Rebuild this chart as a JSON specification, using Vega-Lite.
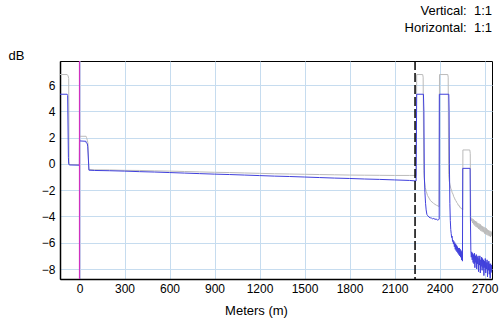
{
  "$schema": "https://vega.github.io/schema/vega-lite/v6.json",
  "width": 432,
  "height": 218,
  "autosize": {"type": "none"},
  "padding": {"left": 60, "top": 61, "right": 10, "bottom": 42},
  "background": "white",
  "title": {
    "text": "Vertical:\u00a0\u00a01:1",
    "subtitle": "Horizontal:\u00a0\u00a01:1",
    "anchor": "end",
    "frame": "group",
    "font": "Liberation Sans",
    "fontSize": 13,
    "fontWeight": "normal",
    "color": "black",
    "subtitleFont": "Liberation Sans",
    "subtitleFontSize": 13,
    "subtitleColor": "black",
    "subtitlePadding": 4,
    "offset": 14
  },
  "config": {
    "view": {"stroke": "black", "strokeWidth": 1},
    "axis": {
      "labelFont": "Liberation Sans",
      "labelFontSize": 12,
      "labelColor": "black",
      "labelOverlap": false,
      "titleFont": "Liberation Sans",
      "titleFontSize": 13,
      "titleFontWeight": "normal",
      "titleColor": "black",
      "gridColor": "#c6dcef",
      "gridOpacity": 1,
      "gridWidth": 1,
      "ticks": false,
      "domainColor": "black",
      "domainWidth": 1.5
    }
  },
  "datasets": {
    "trace": [
      {"series": "grey", "m": -130, "dB": 6.8},
      {"series": "grey", "m": -82, "dB": 6.8},
      {"series": "grey", "m": -76, "dB": 6.7},
      {"series": "grey", "m": -72, "dB": 6.5},
      {"series": "grey", "m": -70, "dB": 0.2},
      {"series": "grey", "m": -68, "dB": -0.05},
      {"series": "grey", "m": -0.5, "dB": -0.05},
      {"series": "grey", "m": 0, "dB": 2.1},
      {"series": "grey", "m": 44, "dB": 2.1},
      {"series": "grey", "m": 47, "dB": 2.0},
      {"series": "grey", "m": 52, "dB": 1.8},
      {"series": "grey", "m": 56, "dB": 1.6},
      {"series": "grey", "m": 62, "dB": -0.42},
      {"series": "grey", "m": 100, "dB": -0.45},
      {"series": "grey", "m": 200, "dB": -0.46},
      {"series": "grey", "m": 300, "dB": -0.49},
      {"series": "grey", "m": 400, "dB": -0.5},
      {"series": "grey", "m": 500, "dB": -0.53},
      {"series": "grey", "m": 600, "dB": -0.55},
      {"series": "grey", "m": 700, "dB": -0.58},
      {"series": "grey", "m": 800, "dB": -0.61},
      {"series": "grey", "m": 900, "dB": -0.64},
      {"series": "grey", "m": 1000, "dB": -0.66},
      {"series": "grey", "m": 1100, "dB": -0.69},
      {"series": "grey", "m": 1200, "dB": -0.72},
      {"series": "grey", "m": 1300, "dB": -0.75},
      {"series": "grey", "m": 1400, "dB": -0.77},
      {"series": "grey", "m": 1500, "dB": -0.79},
      {"series": "grey", "m": 1600, "dB": -0.81},
      {"series": "grey", "m": 1700, "dB": -0.83},
      {"series": "grey", "m": 1800, "dB": -0.85},
      {"series": "grey", "m": 1900, "dB": -0.86},
      {"series": "grey", "m": 2000, "dB": -0.87},
      {"series": "grey", "m": 2100, "dB": -0.88},
      {"series": "grey", "m": 2200, "dB": -0.88},
      {"series": "grey", "m": 2244, "dB": -0.88},
      {"series": "grey", "m": 2248, "dB": 6.8},
      {"series": "grey", "m": 2288, "dB": 6.8},
      {"series": "grey", "m": 2291, "dB": 6.6},
      {"series": "grey", "m": 2295, "dB": -0.5},
      {"series": "grey", "m": 2300, "dB": -1.3},
      {"series": "grey", "m": 2305, "dB": -1.8},
      {"series": "grey", "m": 2312, "dB": -2.1},
      {"series": "grey", "m": 2320, "dB": -2.4},
      {"series": "grey", "m": 2330, "dB": -2.6},
      {"series": "grey", "m": 2340, "dB": -2.8},
      {"series": "grey", "m": 2350, "dB": -2.9},
      {"series": "grey", "m": 2360, "dB": -3.0},
      {"series": "grey", "m": 2370, "dB": -3.08},
      {"series": "grey", "m": 2380, "dB": -3.15},
      {"series": "grey", "m": 2390, "dB": -3.2},
      {"series": "grey", "m": 2397, "dB": -3.25},
      {"series": "grey", "m": 2400, "dB": 6.8},
      {"series": "grey", "m": 2455, "dB": 6.8},
      {"series": "grey", "m": 2458, "dB": 6.6},
      {"series": "grey", "m": 2461, "dB": -0.8},
      {"series": "grey", "m": 2465, "dB": -1.3},
      {"series": "grey", "m": 2470, "dB": -1.6},
      {"series": "grey", "m": 2475, "dB": -1.85},
      {"series": "grey", "m": 2480, "dB": -2.0},
      {"series": "grey", "m": 2485, "dB": -2.2},
      {"series": "grey", "m": 2490, "dB": -2.3},
      {"series": "grey", "m": 2495, "dB": -2.5},
      {"series": "grey", "m": 2500, "dB": -2.6},
      {"series": "grey", "m": 2505, "dB": -2.75},
      {"series": "grey", "m": 2510, "dB": -2.8},
      {"series": "grey", "m": 2515, "dB": -2.95},
      {"series": "grey", "m": 2520, "dB": -3.0},
      {"series": "grey", "m": 2525, "dB": -3.15},
      {"series": "grey", "m": 2530, "dB": -3.15},
      {"series": "grey", "m": 2535, "dB": -3.3},
      {"series": "grey", "m": 2540, "dB": -3.3},
      {"series": "grey", "m": 2545, "dB": -3.42},
      {"series": "grey", "m": 2550, "dB": -3.4},
      {"series": "grey", "m": 2555, "dB": -3.5},
      {"series": "grey", "m": 2556, "dB": 1.06},
      {"series": "grey", "m": 2602, "dB": 1.06},
      {"series": "grey", "m": 2605, "dB": 0.8},
      {"series": "grey", "m": 2608, "dB": -4.0},
      {"series": "grey", "m": 2612, "dB": -4.35},
      {"series": "grey", "m": 2616, "dB": -4.15},
      {"series": "grey", "m": 2620, "dB": -4.5},
      {"series": "grey", "m": 2624, "dB": -4.2},
      {"series": "grey", "m": 2628, "dB": -4.6},
      {"series": "grey", "m": 2632, "dB": -4.3},
      {"series": "grey", "m": 2636, "dB": -4.7},
      {"series": "grey", "m": 2640, "dB": -4.35},
      {"series": "grey", "m": 2644, "dB": -4.8},
      {"series": "grey", "m": 2648, "dB": -4.4},
      {"series": "grey", "m": 2652, "dB": -4.85},
      {"series": "grey", "m": 2656, "dB": -4.5},
      {"series": "grey", "m": 2660, "dB": -4.95},
      {"series": "grey", "m": 2664, "dB": -4.55},
      {"series": "grey", "m": 2668, "dB": -5.0},
      {"series": "grey", "m": 2672, "dB": -4.6},
      {"series": "grey", "m": 2676, "dB": -5.1},
      {"series": "grey", "m": 2680, "dB": -4.7},
      {"series": "grey", "m": 2684, "dB": -5.15},
      {"series": "grey", "m": 2688, "dB": -4.75},
      {"series": "grey", "m": 2692, "dB": -5.2},
      {"series": "grey", "m": 2696, "dB": -4.8},
      {"series": "grey", "m": 2700, "dB": -5.3},
      {"series": "grey", "m": 2704, "dB": -4.85},
      {"series": "grey", "m": 2708, "dB": -5.35},
      {"series": "grey", "m": 2712, "dB": -4.9},
      {"series": "grey", "m": 2716, "dB": -5.4},
      {"series": "grey", "m": 2720, "dB": -5.0},
      {"series": "grey", "m": 2724, "dB": -5.45},
      {"series": "grey", "m": 2728, "dB": -5.05},
      {"series": "grey", "m": 2732, "dB": -5.5},
      {"series": "grey", "m": 2736, "dB": -5.1},
      {"series": "grey", "m": 2740, "dB": -5.55},
      {"series": "grey", "m": 2744, "dB": -5.15},
      {"series": "grey", "m": 2750, "dB": -5.5},
      {"series": "blue", "m": -130, "dB": 5.3},
      {"series": "blue", "m": -82, "dB": 5.3},
      {"series": "blue", "m": -79, "dB": 5.2},
      {"series": "blue", "m": -74, "dB": 0.5},
      {"series": "blue", "m": -72, "dB": 0.0},
      {"series": "blue", "m": -68, "dB": -0.08},
      {"series": "blue", "m": -0.5, "dB": -0.1},
      {"series": "blue", "m": 0, "dB": 1.75},
      {"series": "blue", "m": 43, "dB": 1.72},
      {"series": "blue", "m": 45, "dB": 1.6},
      {"series": "blue", "m": 52, "dB": 1.55},
      {"series": "blue", "m": 55, "dB": 1.3},
      {"series": "blue", "m": 63, "dB": -0.48},
      {"series": "blue", "m": 100, "dB": -0.5},
      {"series": "blue", "m": 200, "dB": -0.52},
      {"series": "blue", "m": 300, "dB": -0.55},
      {"series": "blue", "m": 400, "dB": -0.59},
      {"series": "blue", "m": 500, "dB": -0.62},
      {"series": "blue", "m": 600, "dB": -0.66},
      {"series": "blue", "m": 700, "dB": -0.7},
      {"series": "blue", "m": 800, "dB": -0.74},
      {"series": "blue", "m": 900, "dB": -0.78},
      {"series": "blue", "m": 1000, "dB": -0.81},
      {"series": "blue", "m": 1100, "dB": -0.85},
      {"series": "blue", "m": 1200, "dB": -0.89},
      {"series": "blue", "m": 1300, "dB": -0.93},
      {"series": "blue", "m": 1400, "dB": -0.96},
      {"series": "blue", "m": 1500, "dB": -1.0},
      {"series": "blue", "m": 1600, "dB": -1.04},
      {"series": "blue", "m": 1700, "dB": -1.08},
      {"series": "blue", "m": 1800, "dB": -1.11},
      {"series": "blue", "m": 1900, "dB": -1.15},
      {"series": "blue", "m": 2000, "dB": -1.18},
      {"series": "blue", "m": 2100, "dB": -1.22},
      {"series": "blue", "m": 2200, "dB": -1.26},
      {"series": "blue", "m": 2244, "dB": -1.3},
      {"series": "blue", "m": 2248, "dB": 5.3},
      {"series": "blue", "m": 2293, "dB": 5.3},
      {"series": "blue", "m": 2296, "dB": 4.0},
      {"series": "blue", "m": 2299, "dB": -1.0},
      {"series": "blue", "m": 2303, "dB": -2.2},
      {"series": "blue", "m": 2307, "dB": -3.0},
      {"series": "blue", "m": 2311, "dB": -3.5},
      {"series": "blue", "m": 2316, "dB": -3.85},
      {"series": "blue", "m": 2322, "dB": -3.95},
      {"series": "blue", "m": 2330, "dB": -4.05},
      {"series": "blue", "m": 2338, "dB": -4.1},
      {"series": "blue", "m": 2346, "dB": -4.12},
      {"series": "blue", "m": 2354, "dB": -4.18},
      {"series": "blue", "m": 2362, "dB": -4.15},
      {"series": "blue", "m": 2370, "dB": -4.22},
      {"series": "blue", "m": 2378, "dB": -4.2},
      {"series": "blue", "m": 2386, "dB": -4.27},
      {"series": "blue", "m": 2394, "dB": -4.25},
      {"series": "blue", "m": 2398, "dB": -4.2},
      {"series": "blue", "m": 2399, "dB": 5.3},
      {"series": "blue", "m": 2462, "dB": 5.3},
      {"series": "blue", "m": 2464, "dB": 4.0},
      {"series": "blue", "m": 2466, "dB": 0.0},
      {"series": "blue", "m": 2469, "dB": -3.0},
      {"series": "blue", "m": 2472, "dB": -4.3},
      {"series": "blue", "m": 2475, "dB": -5.0},
      {"series": "blue", "m": 2478, "dB": -5.3},
      {"series": "blue", "m": 2481, "dB": -5.6},
      {"series": "blue", "m": 2484, "dB": -5.5},
      {"series": "blue", "m": 2487, "dB": -5.9},
      {"series": "blue", "m": 2490, "dB": -5.8},
      {"series": "blue", "m": 2493, "dB": -6.1},
      {"series": "blue", "m": 2496, "dB": -5.9},
      {"series": "blue", "m": 2499, "dB": -6.3},
      {"series": "blue", "m": 2502, "dB": -6.0},
      {"series": "blue", "m": 2505, "dB": -6.5},
      {"series": "blue", "m": 2508, "dB": -6.1},
      {"series": "blue", "m": 2511, "dB": -6.6},
      {"series": "blue", "m": 2514, "dB": -6.2},
      {"series": "blue", "m": 2517, "dB": -6.7},
      {"series": "blue", "m": 2520, "dB": -6.3},
      {"series": "blue", "m": 2523, "dB": -6.8},
      {"series": "blue", "m": 2526, "dB": -6.4},
      {"series": "blue", "m": 2529, "dB": -6.9},
      {"series": "blue", "m": 2532, "dB": -6.4},
      {"series": "blue", "m": 2535, "dB": -7.0},
      {"series": "blue", "m": 2538, "dB": -6.5},
      {"series": "blue", "m": 2541, "dB": -7.1},
      {"series": "blue", "m": 2544, "dB": -6.6},
      {"series": "blue", "m": 2547, "dB": -7.3},
      {"series": "blue", "m": 2550, "dB": -6.7},
      {"series": "blue", "m": 2553, "dB": -7.4},
      {"series": "blue", "m": 2555, "dB": -0.34},
      {"series": "blue", "m": 2604, "dB": -0.34},
      {"series": "blue", "m": 2606, "dB": -4.0},
      {"series": "blue", "m": 2609, "dB": -6.6},
      {"series": "blue", "m": 2612, "dB": -7.1},
      {"series": "blue", "m": 2615, "dB": -6.7},
      {"series": "blue", "m": 2618, "dB": -7.3},
      {"series": "blue", "m": 2621, "dB": -6.8},
      {"series": "blue", "m": 2624, "dB": -7.5},
      {"series": "blue", "m": 2627, "dB": -6.9},
      {"series": "blue", "m": 2630, "dB": -7.6},
      {"series": "blue", "m": 2633, "dB": -6.8},
      {"series": "blue", "m": 2636, "dB": -7.9},
      {"series": "blue", "m": 2639, "dB": -7.0},
      {"series": "blue", "m": 2642, "dB": -7.5},
      {"series": "blue", "m": 2645, "dB": -6.9},
      {"series": "blue", "m": 2648, "dB": -8.0},
      {"series": "blue", "m": 2651, "dB": -7.1},
      {"series": "blue", "m": 2654, "dB": -7.6},
      {"series": "blue", "m": 2657, "dB": -7.0},
      {"series": "blue", "m": 2660, "dB": -8.2},
      {"series": "blue", "m": 2663, "dB": -7.2},
      {"series": "blue", "m": 2666, "dB": -7.7},
      {"series": "blue", "m": 2669, "dB": -7.0},
      {"series": "blue", "m": 2672, "dB": -8.3},
      {"series": "blue", "m": 2675, "dB": -7.3},
      {"series": "blue", "m": 2678, "dB": -7.8},
      {"series": "blue", "m": 2681, "dB": -7.1},
      {"series": "blue", "m": 2684, "dB": -8.1},
      {"series": "blue", "m": 2687, "dB": -7.2},
      {"series": "blue", "m": 2690, "dB": -7.9},
      {"series": "blue", "m": 2693, "dB": -7.3},
      {"series": "blue", "m": 2696, "dB": -8.5},
      {"series": "blue", "m": 2699, "dB": -7.4},
      {"series": "blue", "m": 2702, "dB": -7.9},
      {"series": "blue", "m": 2705, "dB": -7.2},
      {"series": "blue", "m": 2708, "dB": -8.3},
      {"series": "blue", "m": 2711, "dB": -7.5},
      {"series": "blue", "m": 2714, "dB": -8.0},
      {"series": "blue", "m": 2717, "dB": -7.3},
      {"series": "blue", "m": 2720, "dB": -8.6},
      {"series": "blue", "m": 2723, "dB": -7.5},
      {"series": "blue", "m": 2726, "dB": -8.1},
      {"series": "blue", "m": 2729, "dB": -7.4},
      {"series": "blue", "m": 2732, "dB": -8.4},
      {"series": "blue", "m": 2735, "dB": -7.6},
      {"series": "blue", "m": 2738, "dB": -8.7},
      {"series": "blue", "m": 2741, "dB": -7.6},
      {"series": "blue", "m": 2744, "dB": -8.2},
      {"series": "blue", "m": 2747, "dB": -7.7},
      {"series": "blue", "m": 2750, "dB": -8.3}
    ],
    "markers": [
      {"kind": "origin", "m": 0},
      {"kind": "end", "m": 2237}
    ]
  },
  "encoding": {
    "x": {
      "field": "m",
      "type": "quantitative",
      "scale": {"domain": [-130, 2750], "nice": false, "zero": false},
      "axis": {
        "values": [0, 300, 600, 900, 1200, 1500, 1800, 2100, 2400, 2700],
        "format": "d",
        "labelOverlap": false,
        "title": "Meters (m)",
        "titleX": 196,
        "titleY": 31,
        "titleBaseline": "middle",
        "labelPadding": 4
      }
    }
  },
  "layer": [
    {
      "data": {"name": "trace"},
      "transform": [{"filter": "datum.series === 'grey'"}],
      "mark": {"type": "line", "color": "#bbbbbb", "strokeWidth": 1, "clip": true},
      "encoding": {
        "y": {
          "field": "dB",
          "type": "quantitative",
          "scale": {"domain": [-8.76, 7.83], "nice": false, "zero": false},
          "axis": {
            "values": [-8, -6, -4, -2, 0, 2, 4, 6],
            "format": "d",
            "labelOverlap": false,
            "title": "dB",
            "titleAngle": 0,
            "titleAlign": "left",
            "titleBaseline": "middle",
            "titleX": -52,
            "titleY": -6,
            "labelPadding": 5
          }
        },
        "order": {"value": null}
      }
    },
    {
      "data": {"name": "trace"},
      "transform": [{"filter": "datum.series === 'blue'"}],
      "mark": {"type": "line", "color": "#4040dc", "strokeWidth": 1, "clip": true},
      "encoding": {
        "y": {
          "field": "dB",
          "type": "quantitative",
          "scale": {"domain": [-8.76, 7.83], "nice": false, "zero": false},
          "axis": {
            "values": [-8, -6, -4, -2, 0, 2, 4, 6],
            "format": "d",
            "labelOverlap": false,
            "title": "dB",
            "titleAngle": 0,
            "titleAlign": "left",
            "titleBaseline": "middle",
            "titleX": -52,
            "titleY": -6,
            "labelPadding": 5
          }
        },
        "order": {"value": null}
      }
    },
    {
      "data": {"name": "markers"},
      "transform": [{"filter": "datum.kind === 'origin'"}],
      "mark": {"type": "rule", "color": "#d030c0", "strokeWidth": 1.2},
      "encoding": {}
    },
    {
      "data": {"name": "markers"},
      "transform": [{"filter": "datum.kind === 'end'"}],
      "mark": {"type": "rule", "color": "black", "strokeWidth": 1.5, "strokeDash": [9, 3]},
      "encoding": {}
    }
  ]
}
